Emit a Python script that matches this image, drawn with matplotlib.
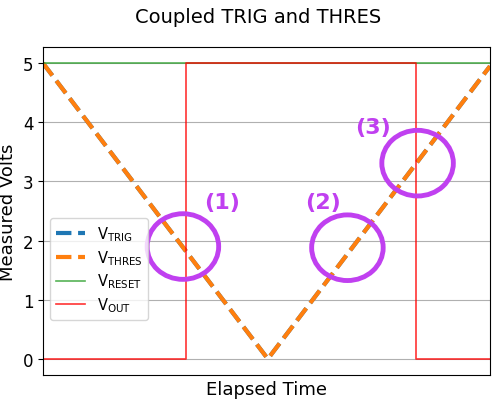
import matplotlib.pyplot as plt
from matplotlib.patches import Ellipse

# elapsed time (arbitrary units, 0..100) and measured volts
t_trig = [0, 50.3, 100]
v_trig = [5.0, 0.0, 4.95]
t_thres = [0, 50.3, 100]
v_thres = [5.0, 0.0, 4.95]
t_reset = [0, 100]
v_reset = [5.0, 5.0]
t_out = [0, 32.0, 32.0, 83.4, 83.4, 100]
v_out = [0.0, 0.0, 5.0, 5.0, 0.0, 0.0]

# highlighted crossing points: label, circle centre, label position
marks = ['(1)', '(2)', '(3)']
mark_x = [31.3, 68.1, 83.8]
mark_y = [1.90, 1.88, 3.31]
label_x = [40.0, 62.6, 73.8]
label_y = [2.65, 2.65, 3.92]

fig, ax = plt.subplots(figsize=(5, 4.02), dpi=100)
fig.subplots_adjust(left=0.086, right=0.98, top=0.88, bottom=0.065)

ax.plot(t_trig, v_trig, '--', color='C0', lw=3, label=r'$\mathrm{V_{TRIG}}$')
ax.plot(t_thres, v_thres, '--', color='C1', lw=3, label=r'$\mathrm{V_{THRES}}$')
ax.plot(t_reset, v_reset, color='#2ca02c', lw=1.2, alpha=0.8, label=r'$\mathrm{V_{RESET}}$')
ax.plot(t_out, v_out, color='red', lw=1.2, alpha=0.8, label=r'$\mathrm{V_{OUT}}$')

purple = '#c040f0'
for m, x, y, lx, ly in zip(marks, mark_x, mark_y, label_x, label_y):
    ax.add_patch(Ellipse((x, y), 16.0, 1.11, fill=False, ec=purple, lw=3.5, zorder=5))
    ax.text(lx, ly, m, color=purple, fontsize=16, fontweight='bold',
            ha='center', va='center', zorder=5)

ax.set_xlim(0, 100)
ax.set_ylim(-0.27, 5.27)
ax.set_xticks([])
ax.set_yticks([0, 1, 2, 3, 4, 5])
ax.tick_params(axis='y', labelsize=12)
ax.grid(axis='y', color='#b0b0b0')
ax.set_axisbelow(True)
ax.set_xlabel('Elapsed Time', fontsize=13)
ax.set_ylabel('Measured Volts', fontsize=13)
fig.suptitle('Coupled TRIG and THRES', fontsize=14, x=0.516)
ax.legend(loc='lower left', bbox_to_anchor=(0.0, 0.145), fontsize=10.5,
          handlelength=2.0, labelspacing=0.35)

fig.savefig('out.png')
